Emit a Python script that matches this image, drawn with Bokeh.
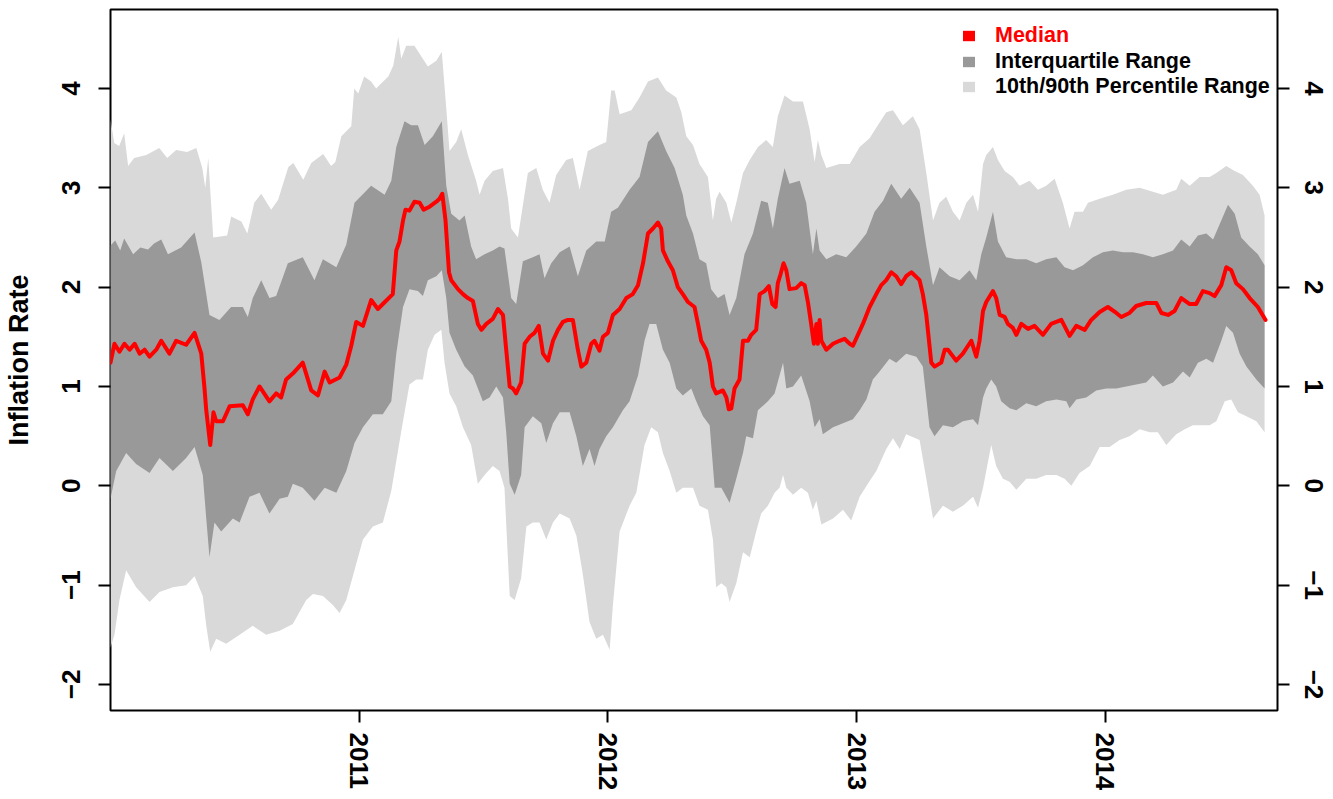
from bokeh.plotting import figure
from bokeh.models import (FixedTicker, LinearAxis, Legend, LegendItem, Range1d)
from bokeh.embed import file_html
from bokeh.resources import INLINE

# ---------------- data (decimal year, value) ----------------
MEDIAN = [
    (2010.000, 1.24), (2010.016, 1.43), (2010.036, 1.35), (2010.056, 1.43), (2010.077, 1.37),
    (2010.097, 1.43), (2010.117, 1.33), (2010.137, 1.37), (2010.157, 1.30), (2010.184, 1.37),
    (2010.204, 1.46), (2010.237, 1.33), (2010.264, 1.46), (2010.304, 1.42), (2010.338, 1.54),
    (2010.365, 1.33), (2010.378, 0.98), (2010.385, 0.76), (2010.401, 0.41), (2010.414, 0.74),
    (2010.425, 0.65), (2010.452, 0.65), (2010.479, 0.80), (2010.532, 0.81), (2010.552, 0.72),
    (2010.572, 0.87), (2010.599, 1.00), (2010.639, 0.85), (2010.666, 0.93), (2010.686, 0.89),
    (2010.706, 1.07), (2010.733, 1.13), (2010.773, 1.24), (2010.807, 0.96), (2010.834, 0.91),
    (2010.861, 1.15), (2010.881, 1.04), (2010.921, 1.09), (2010.948, 1.22), (2010.968, 1.41),
    (2010.988, 1.65), (2011.015, 1.61), (2011.048, 1.87), (2011.075, 1.78), (2011.095, 1.83),
    (2011.135, 1.93),
    (2011.149, 2.37), (2011.162, 2.46), (2011.176, 2.67), (2011.186, 2.78), (2011.202, 2.77),
    (2011.222, 2.86), (2011.243, 2.85), (2011.259, 2.78), (2011.283, 2.81), (2011.310, 2.86),
    (2011.323, 2.89), (2011.334, 2.94), (2011.347, 2.67), (2011.361, 2.15), (2011.370, 2.07),
    (2011.397, 1.98), (2011.417, 1.93), (2011.437, 1.89), (2011.457, 1.86), (2011.477, 1.63),
    (2011.491, 1.57), (2011.511, 1.63), (2011.537, 1.68), (2011.558, 1.78), (2011.578, 1.72),
    (2011.591, 1.37), (2011.605, 1.00), (2011.618, 0.98), (2011.631, 0.93), (2011.651, 1.04),
    (2011.665, 1.43), (2011.685, 1.50), (2011.705, 1.54), (2011.722, 1.61), (2011.739, 1.33),
    (2011.759, 1.26), (2011.779, 1.46), (2011.799, 1.57), (2011.819, 1.65), (2011.839, 1.67),
    (2011.859, 1.67), (2011.879, 1.37), (2011.893, 1.20), (2011.913, 1.24), (2011.933, 1.43),
    (2011.946, 1.46), (2011.966, 1.36), (2011.980, 1.50), (2012.000, 1.54), (2012.020, 1.72),
    (2012.047, 1.78), (2012.074, 1.89), (2012.100, 1.93), (2012.121, 2.02), (2012.141, 2.24),
    (2012.161, 2.54), (2012.181, 2.59), (2012.201, 2.65), (2012.214, 2.59), (2012.221, 2.37),
    (2012.241, 2.26), (2012.261, 2.17), (2012.281, 2.00), (2012.301, 1.93), (2012.322, 1.85),
    (2012.348, 1.80), (2012.362, 1.63), (2012.375, 1.46), (2012.395, 1.37), (2012.409, 1.24),
    (2012.422, 1.00), (2012.435, 0.93), (2012.462, 0.96), (2012.476, 0.89), (2012.486, 0.77),
    (2012.496, 0.78), (2012.509, 0.98), (2012.529, 1.07), (2012.543, 1.46), (2012.563, 1.46),
    (2012.576, 1.52), (2012.596, 1.57), (2012.610, 1.93), (2012.630, 1.96), (2012.647, 2.01),
    (2012.661, 1.83), (2012.674, 1.80), (2012.683, 2.04), (2012.694, 2.13), (2012.706, 2.24),
    (2012.717, 2.17), (2012.730, 1.98), (2012.757, 1.99), (2012.777, 2.04), (2012.791, 2.02),
    (2012.804, 1.85), (2012.817, 1.63), (2012.828, 1.43), (2012.838, 1.63), (2012.844, 1.43),
    (2012.851, 1.67), (2012.858, 1.46), (2012.878, 1.37), (2012.905, 1.43), (2012.931, 1.46),
    (2012.951, 1.48), (2012.972, 1.43), (2012.985, 1.41), (2013.005, 1.52), (2013.025, 1.63),
    (2013.052, 1.80), (2013.079, 1.93), (2013.099, 2.02), (2013.119, 2.07), (2013.139, 2.15),
    (2013.159, 2.11), (2013.179, 2.03), (2013.199, 2.11), (2013.220, 2.15), (2013.253, 2.07),
    (2013.266, 1.93), (2013.280, 1.72), (2013.300, 1.24), (2013.313, 1.20), (2013.340, 1.24),
    (2013.354, 1.37), (2013.367, 1.37), (2013.400, 1.26), (2013.427, 1.33), (2013.461, 1.46),
    (2013.481, 1.30), (2013.494, 1.46), (2013.508, 1.76), (2013.521, 1.85),
    (2013.548, 1.96), (2013.561, 1.89), (2013.575, 1.72), (2013.595, 1.70), (2013.608, 1.63),
    (2013.628, 1.59), (2013.642, 1.52), (2013.662, 1.63), (2013.689, 1.58), (2013.715, 1.61),
    (2013.749, 1.52), (2013.782, 1.63), (2013.823, 1.67), (2013.856, 1.51), (2013.883, 1.61),
    (2013.917, 1.57), (2013.943, 1.67), (2013.977, 1.75), (2014.010, 1.80), (2014.044, 1.74),
    (2014.064, 1.70), (2014.097, 1.74), (2014.124, 1.81), (2014.164, 1.84), (2014.205, 1.84),
    (2014.225, 1.74), (2014.252, 1.72), (2014.278, 1.76), (2014.305, 1.89), (2014.339, 1.83),
    (2014.365, 1.83), (2014.392, 1.96), (2014.419, 1.94), (2014.439, 1.91), (2014.466, 2.02),
    (2014.486, 2.20), (2014.506, 2.17), (2014.526, 2.04), (2014.553, 1.98), (2014.580, 1.89),
    (2014.613, 1.80), (2014.644, 1.67),
]

P90 = [
    (2010.000, 3.69), (2010.015, 3.45), (2010.035, 3.42), (2010.055, 3.55), (2010.071, 3.22),
    (2010.095, 3.30), (2010.144, 3.33), (2010.196, 3.40), (2010.228, 3.30), (2010.264, 3.38),
    (2010.308, 3.36), (2010.345, 3.40), (2010.369, 3.20), (2010.381, 3.00), (2010.393, 3.30),
    (2010.413, 2.50), (2010.469, 2.52), (2010.485, 2.71), (2010.526, 2.66), (2010.550, 2.54),
    (2010.578, 2.85), (2010.606, 2.94), (2010.646, 2.78), (2010.674, 2.88), (2010.715, 3.21),
    (2010.735, 3.25), (2010.775, 3.08), (2010.807, 3.25), (2010.855, 3.34), (2010.887, 3.22),
    (2010.904, 3.26), (2010.928, 3.52), (2010.968, 3.62), (2010.980, 4.00), (2010.996, 3.95),
    (2011.020, 4.12), (2011.048, 4.07), (2011.068, 4.00), (2011.088, 4.05), (2011.117, 4.12),
    (2011.137, 4.23), (2011.157, 4.52),
    (2011.169, 4.30), (2011.189, 4.43), (2011.222, 4.43), (2011.276, 4.22), (2011.310, 4.28),
    (2011.332, 4.37), (2011.350, 3.80), (2011.363, 3.37), (2011.390, 3.46), (2011.410, 3.59),
    (2011.437, 3.33), (2011.470, 3.07), (2011.484, 2.93), (2011.504, 3.07), (2011.537, 3.17),
    (2011.578, 3.20), (2011.598, 2.89), (2011.611, 2.59), (2011.638, 2.50), (2011.678, 3.15),
    (2011.712, 3.20), (2011.738, 2.98), (2011.765, 2.85), (2011.792, 3.13), (2011.832, 3.28),
    (2011.859, 3.30), (2011.886, 2.98), (2011.919, 3.37), (2011.966, 3.43), (2011.993, 3.46),
    (2012.013, 3.98), (2012.027, 3.98), (2012.047, 3.74), (2012.094, 3.78), (2012.127, 3.91),
    (2012.161, 4.07), (2012.201, 4.11), (2012.234, 3.98), (2012.275, 3.91), (2012.295, 3.76),
    (2012.315, 3.52), (2012.342, 3.43), (2012.368, 3.24), (2012.402, 3.11), (2012.422, 2.67),
    (2012.435, 2.89), (2012.449, 2.96), (2012.476, 2.85), (2012.496, 2.65), (2012.516, 2.85),
    (2012.543, 3.15), (2012.570, 3.28), (2012.603, 3.41), (2012.636, 3.48), (2012.663, 3.41),
    (2012.683, 3.72), (2012.710, 3.93), (2012.744, 3.87), (2012.784, 3.87), (2012.811, 3.59),
    (2012.831, 3.26), (2012.844, 3.48), (2012.858, 3.33), (2012.878, 3.20), (2012.931, 3.24),
    (2012.972, 3.24), (2013.012, 3.41), (2013.052, 3.50), (2013.085, 3.63), (2013.119, 3.76),
    (2013.146, 3.78), (2013.186, 3.63), (2013.226, 3.72), (2013.253, 3.59), (2013.280, 3.15),
    (2013.307, 2.67), (2013.333, 2.85), (2013.360, 2.91), (2013.387, 2.76), (2013.414, 2.67),
    (2013.441, 2.85), (2013.468, 2.93), (2013.488, 2.76), (2013.508, 3.24), (2013.521, 3.33),
    (2013.548, 3.41), (2013.568, 3.28), (2013.595, 3.17), (2013.628, 3.11), (2013.655, 3.02),
    (2013.695, 3.07), (2013.729, 2.98), (2013.762, 3.02), (2013.796, 3.09), (2013.829, 2.85),
    (2013.856, 2.59), (2013.876, 2.76), (2013.910, 2.76), (2013.930, 2.85), (2013.977, 2.89),
    (2014.030, 2.93), (2014.084, 2.98), (2014.138, 3.00), (2014.191, 2.96), (2014.231, 2.93),
    (2014.285, 2.98), (2014.305, 3.09), (2014.339, 3.02), (2014.379, 3.11), (2014.419, 3.11),
    (2014.446, 3.15), (2014.486, 3.22), (2014.520, 3.17), (2014.553, 3.13), (2014.593, 3.02),
    (2014.620, 2.93), (2014.640, 2.72),
]

P75 = [
    (2010.000, 2.42), (2010.019, 2.47), (2010.039, 2.37), (2010.055, 2.49), (2010.091, 2.33),
    (2010.120, 2.40), (2010.151, 2.38), (2010.175, 2.44), (2010.204, 2.48), (2010.231, 2.33),
    (2010.284, 2.40), (2010.338, 2.55), (2010.365, 2.25), (2010.398, 1.72), (2010.438, 1.67),
    (2010.485, 1.80), (2010.532, 1.80), (2010.552, 1.70), (2010.572, 1.89), (2010.606, 2.07),
    (2010.639, 1.89), (2010.666, 1.91), (2010.713, 2.24), (2010.773, 2.30), (2010.820, 2.07),
    (2010.854, 2.28), (2010.908, 2.20), (2010.948, 2.43), (2010.981, 2.85), (2011.048, 3.02),
    (2011.102, 2.93), (2011.129, 3.07),
    (2011.149, 3.41), (2011.182, 3.67), (2011.209, 3.63), (2011.236, 3.63), (2011.263, 3.43),
    (2011.296, 3.52), (2011.332, 3.67), (2011.350, 3.02), (2011.370, 2.74), (2011.403, 2.67),
    (2011.424, 2.72), (2011.450, 2.41), (2011.470, 2.28), (2011.504, 2.33), (2011.537, 2.37),
    (2011.564, 2.41), (2011.584, 2.39), (2011.611, 1.89), (2011.631, 1.83), (2011.658, 2.26),
    (2011.698, 2.30), (2011.725, 2.33), (2011.745, 2.09), (2011.772, 2.24), (2011.806, 2.35),
    (2011.846, 2.41), (2011.879, 2.11), (2011.913, 2.37), (2011.953, 2.46), (2011.987, 2.46),
    (2012.013, 2.76), (2012.040, 2.80), (2012.087, 2.98), (2012.127, 3.11), (2012.161, 3.46),
    (2012.201, 3.57), (2012.234, 3.37), (2012.268, 3.20), (2012.301, 2.93),
    (2012.315, 2.72), (2012.342, 2.54), (2012.368, 2.28), (2012.395, 2.24), (2012.415, 1.98),
    (2012.442, 1.89), (2012.469, 1.93), (2012.489, 1.72), (2012.516, 1.89), (2012.549, 2.33),
    (2012.583, 2.54), (2012.616, 2.87), (2012.643, 2.85), (2012.663, 2.59), (2012.683, 2.89),
    (2012.710, 3.20), (2012.730, 3.04), (2012.771, 3.07), (2012.797, 2.85), (2012.824, 2.33),
    (2012.838, 2.59), (2012.851, 2.37), (2012.878, 2.28), (2012.918, 2.33), (2012.958, 2.30),
    (2012.998, 2.41), (2013.039, 2.54), (2013.072, 2.76), (2013.106, 2.87), (2013.139, 3.04),
    (2013.179, 2.89), (2013.213, 3.00), (2013.253, 2.85), (2013.280, 2.41), (2013.307, 2.02),
    (2013.333, 2.20), (2013.374, 2.11), (2013.414, 2.07), (2013.454, 2.17), (2013.481, 2.07),
    (2013.501, 2.33), (2013.521, 2.50),
    (2013.548, 2.76), (2013.568, 2.46), (2013.601, 2.30), (2013.642, 2.28), (2013.682, 2.28),
    (2013.722, 2.24), (2013.762, 2.28), (2013.803, 2.30), (2013.836, 2.20), (2013.870, 2.17),
    (2013.910, 2.22), (2013.950, 2.30), (2013.990, 2.35), (2014.030, 2.37), (2014.071, 2.35),
    (2014.111, 2.35), (2014.151, 2.33), (2014.191, 2.30), (2014.231, 2.33), (2014.272, 2.37),
    (2014.305, 2.48), (2014.339, 2.41), (2014.372, 2.52), (2014.406, 2.54), (2014.433, 2.48),
    (2014.459, 2.63), (2014.493, 2.83), (2014.520, 2.74), (2014.546, 2.50), (2014.580, 2.41),
    (2014.613, 2.33), (2014.640, 2.22),
]

P25 = [
    (2010.000, -0.13), (2010.023, 0.15), (2010.063, 0.33), (2010.103, 0.22), (2010.157, 0.13),
    (2010.197, 0.28), (2010.251, 0.15), (2010.304, 0.28), (2010.338, 0.39), (2010.371, 0.11),
    (2010.385, -0.33), (2010.398, -0.72), (2010.418, -0.37), (2010.445, -0.46), (2010.492, -0.33),
    (2010.519, -0.37), (2010.559, -0.11), (2010.599, -0.07), (2010.639, -0.28), (2010.680, -0.13),
    (2010.713, -0.11), (2010.733, 0.02), (2010.773, -0.02), (2010.820, -0.15), (2010.861, -0.02),
    (2010.908, -0.07), (2010.948, 0.15), (2010.981, 0.43), (2011.015, 0.59), (2011.055, 0.72),
    (2011.095, 0.72), (2011.129, 0.85),
    (2011.149, 1.33), (2011.176, 1.80), (2011.202, 1.98), (2011.236, 1.96), (2011.256, 1.91),
    (2011.276, 2.07), (2011.310, 2.11), (2011.332, 2.17), (2011.350, 1.89), (2011.363, 1.54),
    (2011.390, 1.37), (2011.424, 1.20), (2011.457, 1.11), (2011.497, 0.85), (2011.524, 0.89),
    (2011.551, 1.00), (2011.578, 0.89), (2011.591, 0.54), (2011.605, 0.02), (2011.625, -0.09),
    (2011.651, 0.11), (2011.665, 0.59), (2011.698, 0.70), (2011.732, 0.63), (2011.752, 0.43),
    (2011.779, 0.63), (2011.806, 0.74), (2011.846, 0.74), (2011.873, 0.50), (2011.899, 0.20),
    (2011.926, 0.37), (2011.946, 0.20), (2011.966, 0.37), (2011.993, 0.50), (2012.020, 0.59),
    (2012.060, 0.76), (2012.087, 0.85), (2012.121, 1.11), (2012.147, 1.46), (2012.167, 1.63),
    (2012.194, 1.63), (2012.221, 1.37), (2012.248, 1.24), (2012.275, 0.98), (2012.301, 0.91),
    (2012.335, 0.98), (2012.355, 0.85), (2012.382, 0.70), (2012.409, 0.61), (2012.429, -0.02),
    (2012.456, -0.02), (2012.489, -0.17), (2012.516, 0.07), (2012.543, 0.33), (2012.556, 0.50),
    (2012.583, 0.48), (2012.603, 0.76), (2012.643, 0.85), (2012.670, 0.93), (2012.704, 1.24),
    (2012.717, 0.98), (2012.744, 1.00), (2012.777, 1.11), (2012.811, 0.85), (2012.831, 0.59),
    (2012.851, 0.67), (2012.864, 0.52), (2012.905, 0.59), (2012.945, 0.63), (2012.985, 0.67),
    (2013.012, 0.76), (2013.039, 0.87), (2013.065, 1.07), (2013.092, 1.15), (2013.132, 1.28),
    (2013.159, 1.24), (2013.199, 1.33), (2013.240, 1.30), (2013.266, 1.20), (2013.293, 0.59),
    (2013.313, 0.50), (2013.347, 0.61), (2013.387, 0.59), (2013.427, 0.65), (2013.468, 0.67),
    (2013.488, 0.61), (2013.508, 0.89), (2013.521, 0.98),
    (2013.541, 1.07), (2013.561, 1.00), (2013.581, 0.85), (2013.615, 0.78), (2013.642, 0.76),
    (2013.682, 0.83), (2013.722, 0.80), (2013.762, 0.85), (2013.803, 0.87), (2013.843, 0.85),
    (2013.856, 0.78), (2013.883, 0.87), (2013.923, 0.89), (2013.963, 0.96), (2014.004, 0.98),
    (2014.044, 0.98), (2014.084, 1.00), (2014.124, 1.02), (2014.164, 1.04), (2014.191, 1.11),
    (2014.231, 1.00), (2014.272, 1.04), (2014.312, 1.15), (2014.339, 1.09), (2014.372, 1.24),
    (2014.406, 1.28), (2014.433, 1.24), (2014.466, 1.46), (2014.486, 1.61), (2014.513, 1.54),
    (2014.540, 1.33), (2014.567, 1.20), (2014.607, 1.07), (2014.640, 0.98),
]

P10 = [
    (2010.000, -1.63), (2010.016, -1.50), (2010.036, -1.15), (2010.063, -0.85), (2010.103, -1.02),
    (2010.157, -1.17), (2010.197, -1.07), (2010.251, -1.02), (2010.304, -1.00), (2010.338, -0.91),
    (2010.371, -1.11), (2010.385, -1.41), (2010.401, -1.67), (2010.425, -1.54), (2010.465, -1.59),
    (2010.519, -1.50), (2010.572, -1.41), (2010.626, -1.50), (2010.680, -1.46), (2010.733, -1.39),
    (2010.787, -1.15), (2010.814, -1.09), (2010.854, -1.11), (2010.894, -1.20), (2010.921, -1.28),
    (2010.948, -1.15), (2010.981, -0.85), (2011.015, -0.54), (2011.055, -0.41), (2011.095, -0.37),
    (2011.129, -0.05), (2011.149, 0.25), (2011.169, 0.55),
    (2011.202, 1.02), (2011.229, 1.07), (2011.256, 1.07), (2011.276, 1.37), (2011.303, 1.52),
    (2011.330, 1.57), (2011.343, 1.24), (2011.363, 0.93), (2011.390, 0.80), (2011.417, 0.59),
    (2011.450, 0.41), (2011.477, 0.02), (2011.504, 0.11), (2011.537, 0.20), (2011.564, 0.15),
    (2011.584, -0.02), (2011.605, -1.11), (2011.625, -1.15), (2011.651, -0.93), (2011.672, -0.41),
    (2011.698, -0.37), (2011.725, -0.37), (2011.752, -0.54), (2011.779, -0.37), (2011.806, -0.28),
    (2011.846, -0.33), (2011.873, -0.50), (2011.899, -0.89), (2011.926, -1.37), (2011.953, -1.54),
    (2011.980, -1.50), (2012.007, -1.65), (2012.020, -1.20), (2012.047, -0.46), (2012.087, -0.20),
    (2012.114, -0.07), (2012.147, 0.41), (2012.174, 0.59), (2012.201, 0.54), (2012.221, 0.33),
    (2012.248, 0.15), (2012.275, -0.07), (2012.301, -0.02),
    (2012.342, -0.02), (2012.368, -0.20), (2012.402, -0.24), (2012.422, -0.54), (2012.435, -1.02),
    (2012.456, -0.98), (2012.476, -1.02), (2012.489, -1.17), (2012.516, -0.98), (2012.543, -0.67),
    (2012.570, -0.72), (2012.596, -0.46), (2012.616, -0.28), (2012.643, -0.20), (2012.670, -0.07),
    (2012.690, -0.02), (2012.704, 0.11), (2012.717, -0.02), (2012.744, -0.09), (2012.777, -0.02),
    (2012.804, -0.07), (2012.824, -0.24), (2012.838, -0.15), (2012.858, -0.39), (2012.905, -0.33),
    (2012.945, -0.24), (2012.978, -0.35), (2013.012, -0.11), (2013.045, 0.02), (2013.079, 0.15),
    (2013.119, 0.37), (2013.146, 0.48), (2013.173, 0.37), (2013.199, 0.52), (2013.253, 0.46),
    (2013.280, 0.07), (2013.307, -0.33), (2013.347, -0.20), (2013.387, -0.26), (2013.427, -0.20),
    (2013.468, -0.11), (2013.488, -0.22), (2013.508, -0.02), (2013.521, 0.15),
    (2013.541, 0.41), (2013.561, 0.20), (2013.588, 0.07), (2013.615, 0.04), (2013.642, -0.04),
    (2013.682, 0.07), (2013.722, 0.07), (2013.762, 0.11), (2013.803, 0.11), (2013.836, 0.07),
    (2013.863, 0.00), (2013.896, 0.13), (2013.937, 0.20), (2013.977, 0.39), (2014.017, 0.39),
    (2014.057, 0.46), (2014.097, 0.50), (2014.138, 0.57), (2014.178, 0.54), (2014.211, 0.54),
    (2014.245, 0.41), (2014.285, 0.52), (2014.319, 0.57), (2014.352, 0.61), (2014.386, 0.61),
    (2014.419, 0.61), (2014.446, 0.65), (2014.480, 0.85), (2014.506, 0.87), (2014.533, 0.74),
    (2014.567, 0.70), (2014.607, 0.65), (2014.640, 0.54),
]

YEAR_TICKS = [2011, 2012, 2013, 2014]
Y_TICKS = [-2, -1, 0, 1, 2, 3, 4]
Y_LABELS = {-2: "\u22122", -1: "\u22121", 0: "0", 1: "1", 2: "2", 3: "3", 4: "4"}
LEGEND_LABELS = ["Median", "Interquartile Range", "10th/90th Percentile Range"]
Y_TITLE = "Inflation Rate"

C_LIGHT = "#D9D9D9"
C_DARK = "#999999"
C_RED = "#FF0000"
FONT = "Liberation Sans"


def split(pairs):
    return [a for a, _ in pairs], [b for _, b in pairs]


med_t, med_v = split(MEDIAN)
p90_t, p90_v = split(P90)
p75_t, p75_v = split(P75)
p25_t, p25_v = split(P25)
p10_t, p10_v = split(P10)

p = figure(
    frame_width=1167, frame_height=701,
    x_range=Range1d(2010.0, 2014.692), y_range=Range1d(-2.262, 4.795),
    output_backend="svg", toolbar_location=None,
    min_border_left=109, min_border_right=52, min_border_top=9, min_border_bottom=83,
    background_fill_color="white", border_fill_color="white",
)
p.xgrid.visible = False
p.ygrid.visible = False
p.outline_line_color = "black"
p.outline_line_width = 2

light = p.patch(p90_t + p10_t[::-1], p90_v + p10_v[::-1],
                fill_color=C_LIGHT, line_alpha=0)
dark = p.patch(p75_t + p25_t[::-1], p75_v + p25_v[::-1],
               fill_color=C_DARK, line_alpha=0)
# zero-height area on the median: invisible in the plot, gives a filled red legend key
med_key = p.varea(x=med_t, y1=med_v, y2=med_v, fill_color=C_RED)
p.line(med_t, med_v, line_color=C_RED, line_width=4, line_join="round", line_cap="round")


def style_axis(ax, standoff):
    ax.axis_line_color = None
    ax.major_tick_out = 12
    ax.major_tick_in = 0
    ax.major_tick_line_width = 2
    ax.major_tick_line_color = "black"
    ax.minor_tick_line_color = None
    ax.major_label_text_font = FONT
    ax.major_label_text_font_style = "bold"
    ax.major_label_text_font_size = "26px"
    ax.major_label_text_color = "black"
    ax.major_label_orientation = "vertical"
    ax.major_label_standoff = standoff


xa = p.xaxis[0]
xa.ticker = FixedTicker(ticks=YEAR_TICKS)
xa.major_label_overrides = {t: str(t) for t in YEAR_TICKS}
style_axis(xa, 10)

ya = p.yaxis[0]
ya.ticker = FixedTicker(ticks=Y_TICKS)
ya.major_label_overrides = Y_LABELS
style_axis(ya, 18)
ya.axis_label = Y_TITLE
ya.axis_label_text_font = FONT
ya.axis_label_text_font_style = "bold"
ya.axis_label_text_font_size = "27px"
ya.axis_label_text_color = "black"
ya.axis_label_standoff = 26

yr = LinearAxis(ticker=FixedTicker(ticks=Y_TICKS), major_label_overrides=Y_LABELS)
style_axis(yr, 15)
p.add_layout(yr, "right")


def make_legend(items, loc, color):
    return Legend(items=items, location=loc, orientation="vertical",
                  label_text_font=FONT, label_text_font_style="bold",
                  label_text_font_size="21.5px", label_text_color=color,
                  glyph_width=15, glyph_height=13, label_height=25,
                  label_standoff=19, spacing=0, padding=0, margin=0,
                  border_line_alpha=0, background_fill_alpha=0)


p.add_layout(make_legend([LegendItem(label=LEGEND_LABELS[0], renderers=[med_key])],
                         (851, 662), C_RED), "center")
p.add_layout(make_legend([LegendItem(label=LEGEND_LABELS[1], renderers=[dark]),
                          LegendItem(label=LEGEND_LABELS[2], renderers=[light])],
                         (851, 611), "black"), "center")

open("out.html", "w").write(file_html(p, INLINE))
